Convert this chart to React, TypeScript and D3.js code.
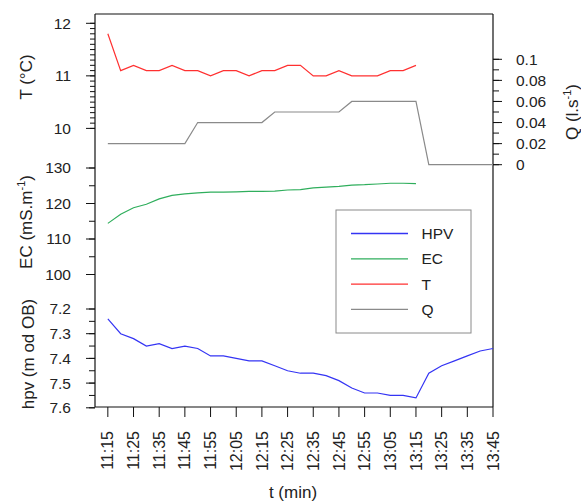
import React from "react";
import * as d3 from "d3";

// ---- data ----
const times = [
  "11:15", "11:20", "11:25", "11:30", "11:35", "11:40", "11:45", "11:50",
  "11:55", "12:00", "12:05", "12:10", "12:15", "12:20", "12:25", "12:30",
  "12:35", "12:40", "12:45", "12:50", "12:55", "13:00", "13:05", "13:10",
  "13:15", "13:20", "13:25", "13:30", "13:35", "13:40", "13:45",
];
const tValues = [
  11.8, 11.1, 11.2, 11.1, 11.1, 11.2, 11.1, 11.1, 11.0, 11.1, 11.1, 11.0, 11.1,
  11.1, 11.2, 11.2, 11.0, 11.0, 11.1, 11.0, 11.0, 11.0, 11.1, 11.1, 11.2,
];
const ecValues = [
  114.4, 117.0, 118.8, 119.8, 121.3, 122.3, 122.7, 123.0, 123.2, 123.2, 123.3,
  123.4, 123.4, 123.5, 123.8, 123.9, 124.4, 124.6, 124.8, 125.2, 125.3, 125.5,
  125.7, 125.7, 125.6,
];
const hpvValues = [
  7.24, 7.3, 7.32, 7.35, 7.34, 7.36, 7.35, 7.36, 7.39, 7.39, 7.4, 7.41, 7.41,
  7.43, 7.45, 7.46, 7.46, 7.47, 7.49, 7.52, 7.54, 7.54, 7.55, 7.55, 7.56, 7.46,
  7.43, 7.41, 7.39, 7.37, 7.36,
];
const qValues = [
  0.02, 0.02, 0.02, 0.02, 0.02, 0.02, 0.02, 0.04, 0.04, 0.04, 0.04, 0.04, 0.04,
  0.05, 0.05, 0.05, 0.05, 0.05, 0.05, 0.06, 0.06, 0.06, 0.06, 0.06, 0.06, 0, 0,
  0, 0, 0, 0,
];
const xTickLabels = [
  "11:15", "11:25", "11:35", "11:45", "11:55", "12:05", "12:15", "12:25",
  "12:35", "12:45", "12:55", "13:05", "13:15", "13:25", "13:35", "13:45",
];
const tTicks = [10, 11, 12];
const ecTicks = [100, 110, 120, 130];
const hpvTicks = [7.2, 7.3, 7.4, 7.5, 7.6];
const qTicks = [0, 0.02, 0.04, 0.06, 0.08, 0.1];
const legendItems = ["HPV", "EC", "T", "Q"];

const toMin = (s: string) => {
  const [h, m] = s.split(":").map(Number);
  return h * 60 + m;
};

const FONT = "'Liberation Sans', Arial, sans-serif";
const COL = { HPV: "#3434f4", EC: "#2fae5c", T: "#ff3030", Q: "#8a8a8a" };

export default function App() {
  const W = 581, H = 502;
  const left = 95, right = 493, top = 14, bottom = 407;

  const x = d3.scaleLinear().domain([toMin("11:10"), toMin("13:45")]).range([left, right]);
  const yT = d3.scaleLinear().domain([10, 12]).range([128.4, 23.3]);
  const yEC = d3.scaleLinear().domain([100, 130]).range([274.5, 168]);
  const yH = d3.scaleLinear().domain([7.2, 7.6]).range([309, 407.8]);
  const yQ = d3.scaleLinear().domain([0, 0.1]).range([164.7, 59.3]);

  const mk = (vals: number[], ys: d3.ScaleLinear<number, number>) =>
    d3.line<number>().x((_, i) => x(toMin(times[i]))).y((v) => ys(v))(vals) || "";

  const fs = 15.5;
  const fsT = 17;
  const leftTicks = (
    ys: d3.ScaleLinear<number, number>,
    major: number[],
    minorStep: number,
    fmt: (v: number) => string,
    minorLen: number
  ) => {
    const [a, b] = ys.domain();
    const lo = Math.min(a, b), hi = Math.max(a, b);
    const n = Math.round((hi - lo) / minorStep);
    const minors = d3.range(n + 1).map((i) => lo + i * minorStep);
    return (
      <g>
        {minors.map((v, i) => (
          <line key={"m" + i} x1={left - minorLen} x2={left} y1={ys(v)} y2={ys(v)} stroke="#111" strokeWidth={1} />
        ))}
        {major.map((v, i) => (
          <g key={"M" + i}>
            <line x1={left - 9} x2={left} y1={ys(v)} y2={ys(v)} stroke="#111" strokeWidth={1} />
            <text x={71} y={ys(v)} dy="0.35em" textAnchor="end" fontSize={fs} fontFamily={FONT} fill="#222">
              {fmt(v)}
            </text>
          </g>
        ))}
      </g>
    );
  };

  const qMinors = d3.range(11).map((i) => i * 0.01);

  return (
    <svg width={W} height={H} style={{ position: "absolute", left: 0, top: 0, background: "#fff" }}>
      <rect x={0} y={0} width={W} height={H} fill="#fff" />
      {/* frame */}
      <line x1={left} x2={right} y1={top} y2={top} stroke="#111" strokeWidth={1.2} />
      <line x1={right} x2={right} y1={top} y2={bottom} stroke="#111" strokeWidth={1.2} />
      <line x1={left} x2={left} y1={top} y2={bottom} stroke="#111" strokeWidth={1.2} />
      <line x1={left} x2={right} y1={bottom} y2={bottom} stroke="#111" strokeWidth={1.2} />

      {/* left axes */}
      {leftTicks(yT, tTicks, 0.1, (v) => d3.format("d")(v), 5)}
      {leftTicks(yEC, ecTicks, 5, (v) => d3.format("d")(v), 6)}
      {leftTicks(yH, hpvTicks, 0.05, (v) => d3.format(".1f")(v), 6)}

      {/* right Q axis */}
      {qMinors.map((v, i) => (
        <line key={"qm" + i} x1={right} x2={right + 6} y1={yQ(v)} y2={yQ(v)} stroke="#111" strokeWidth={1} />
      ))}
      {qTicks.map((v, i) => (
        <g key={"q" + i}>
          <line x1={right} x2={right + 9} y1={yQ(v)} y2={yQ(v)} stroke="#111" strokeWidth={1} />
          <text x={516} y={yQ(v)} dy="0.35em" fontSize={fs} fontFamily={FONT} fill="#222">
            {v === 0 ? "0" : String(+v.toFixed(2))}
          </text>
        </g>
      ))}

      {/* x axis */}
      {xTickLabels.map((t, i) => (
        <g key={"x" + i}>
          <line x1={x(toMin(t))} x2={x(toMin(t))} y1={bottom} y2={bottom + 10} stroke="#111" strokeWidth={1} />
          <text
            transform={`translate(${x(toMin(t))},431) rotate(-90)`}
            dy="0.35em"
            textAnchor="end"
            fontSize={16}
            fontFamily={FONT}
            fill="#222"
          >
            {t}
          </text>
        </g>
      ))}
      <text x={293} y={498} textAnchor="middle" fontSize={fsT} fontFamily={FONT} fill="#222">
        t (min)
      </text>

      {/* axis titles */}
      <text transform="translate(32,77) rotate(-90)" textAnchor="middle" fontSize={fsT} fontFamily={FONT} fill="#222">
        T (°C)
      </text>
      <text transform="translate(32,222) rotate(-90)" textAnchor="middle" fontSize={fsT} fontFamily={FONT} fill="#222">
        EC (mS.m<tspan fontSize={11} dy={-7}>-1</tspan><tspan dy={7}>)</tspan>
      </text>
      <text transform="translate(34,354) rotate(-90)" textAnchor="middle" fontSize={fsT} fontFamily={FONT} fill="#222">
        hpv (m od OB)
      </text>
      <text transform="translate(578,112) rotate(-90)" textAnchor="middle" fontSize={fsT} fontFamily={FONT} fill="#222">
        Q (l.s<tspan fontSize={11} dy={-7}>-1</tspan><tspan dy={7}>)</tspan>
      </text>

      {/* series */}
      <path d={mk(qValues, yQ)} fill="none" stroke={COL.Q} strokeWidth={1.2} />
      <path d={mk(tValues, yT)} fill="none" stroke={COL.T} strokeWidth={1.2} />
      <path d={mk(ecValues, yEC)} fill="none" stroke={COL.EC} strokeWidth={1.2} />
      <path d={mk(hpvValues, yH)} fill="none" stroke={COL.HPV} strokeWidth={1.2} />

      {/* legend */}
      <rect x={336} y={210} width={135} height={123} fill="#fff" stroke="#8a8a8a" strokeWidth={1} />
      {legendItems.map((k, i) => {
        const yy = 233.5 + i * 25.3;
        return (
          <g key={k}>
            <line x1={351} x2={408} y1={yy} y2={yy} stroke={(COL as any)[k]} strokeWidth={1.3} />
            <text x={421.5} y={yy} dy="0.35em" fontSize={fs} fontFamily={FONT} fill="#222">
              {k}
            </text>
          </g>
        );
      })}
    </svg>
  );
}
